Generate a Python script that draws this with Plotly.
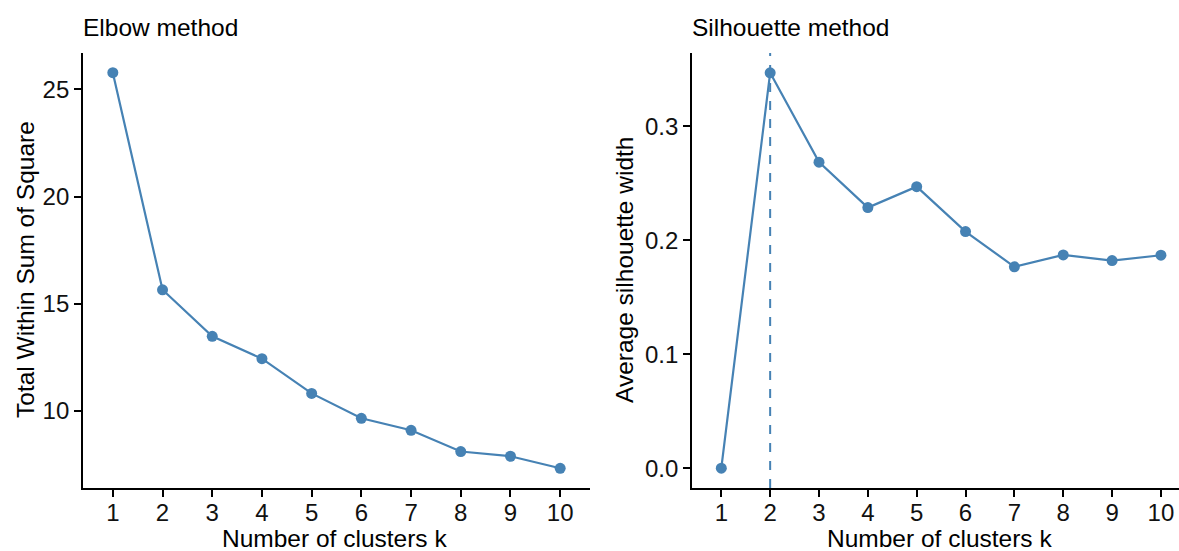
import plotly.graph_objects as go

k = [1, 2, 3, 4, 5, 6, 7, 8, 9, 10]
wss = [25.77, 15.65, 13.48, 12.44, 10.82, 9.66, 9.10, 8.11, 7.89, 7.33]
sil = [0.0, 0.347, 0.2686, 0.2287, 0.2471, 0.2077, 0.1767, 0.1872, 0.1822, 0.1869]
best_k = 2

W, H = 1179, 551
COL = "#4682B4"
FONT = "Liberation Sans, Arial, Helvetica, sans-serif"
FS = 24.5
TFS = 24

L1, R1 = 83, 590
L2, R2 = 692, 1179
T, B = 53, 488

fig = go.Figure()
fig.add_trace(go.Scatter(x=k, y=wss, mode="lines+markers",
                         line=dict(color=COL, width=2.2),
                         marker=dict(color=COL, size=11),
                         xaxis="x", yaxis="y", showlegend=False))
fig.add_trace(go.Scatter(x=k, y=sil, mode="lines+markers",
                         line=dict(color=COL, width=2.2),
                         marker=dict(color=COL, size=11),
                         xaxis="x2", yaxis="y2", showlegend=False))

axis_common = dict(showline=True, linecolor="black", linewidth=1.8,
                   ticks="outside", ticklen=7, tickwidth=1.5, tickcolor="black",
                   showgrid=False, zeroline=False,
                   tickfont=dict(family=FONT, size=TFS, color="#111111"))

fig.update_layout(
    width=W, height=H,
    margin=dict(l=0, r=0, t=T, b=H - B),
    paper_bgcolor="white", plot_bgcolor="white",
    xaxis=dict(domain=[L1 / W, R1 / W], range=[0.4, 10.6], tickvals=k,
               anchor="y", ticklabelstandoff=-5, **axis_common),
    yaxis=dict(domain=[0, 1], range=[6.41, 26.69], tickvals=[10, 15, 20, 25],
               anchor="x", **axis_common),
    xaxis2=dict(domain=[L2 / W, R2 / W], range=[0.4, 10.37], tickvals=k,
                anchor="y2", ticklabelstandoff=-5, **axis_common),
    yaxis2=dict(domain=[0, 1], range=[-0.0174, 0.3644],
                tickvals=[0.0, 0.1, 0.2, 0.3], ticktext=["0.0", "0.1", "0.2", "0.3"],
                anchor="x2", **axis_common),
    shapes=[dict(type="line", xref="x2", yref="paper", x0=best_k, x1=best_k,
                 y0=0, y1=1, line=dict(color=COL, width=2, dash="dash"))],
)

def ann(text, px, py, xanchor="center", yanchor="middle", angle=0):
    fig.add_annotation(text=text, xref="paper", yref="paper",
                       x=px / W, y=(B - py) / (B - T),
                       xanchor=xanchor, yanchor=yanchor, showarrow=False,
                       textangle=angle, font=dict(family=FONT, size=FS, color="black"))

ann("Elbow method", L1 - 2, 27, xanchor="left")
ann("Silhouette method", L2 - 2, 27, xanchor="left")
ann("Number of clusters k", 334, 538)
ann("Number of clusters k", 939, 538)
ann("Total Within Sum of Square", 25, 270, angle=-90)
ann("Average silhouette width", 624, 270, angle=-90)

fig.write_html("out.html")
